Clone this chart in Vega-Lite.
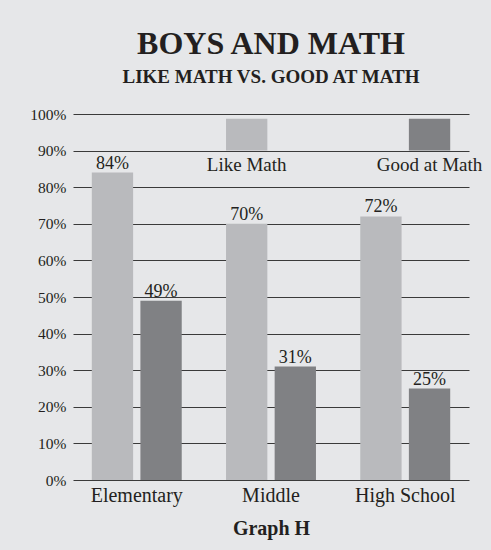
{
  "$schema": "https://vega.github.io/schema/vega-lite/v6.json",
  "width": 396,
  "height": 366,
  "autosize": {"type": "none"},
  "padding": {"left": 73, "top": 114, "right": 22, "bottom": 70},
  "background": "#e6e7e9",
  "title": {
    "text": "BOYS AND MATH",
    "subtitle": "LIKE MATH VS. GOOD AT MATH",
    "anchor": "middle",
    "frame": "group",
    "font": "Liberation Serif",
    "fontSize": 32,
    "fontWeight": "bold",
    "color": "#231f20",
    "subtitleFont": "Liberation Serif",
    "subtitleFontSize": 19,
    "subtitleFontWeight": "bold",
    "subtitleColor": "#231f20",
    "subtitlePadding": 7,
    "offset": 19
  },
  "config": {
    "view": {"stroke": null},
    "font": "Liberation Serif"
  },
  "encoding": {
    "x": {
      "field": "School",
      "type": "nominal",
      "sort": ["Elementary", "Middle", "High School"],
      "scale": {"paddingInner": 0.33, "paddingOuter": 0.14},
      "axis": {
        "title": "Graph H",
        "labelAngle": 0,
        "labelFont": "Liberation Serif",
        "labelFontSize": 20,
        "labelColor": "#231f20",
        "labelPadding": 5,
        "ticks": false,
        "domain": false,
        "titleFont": "Liberation Serif",
        "titleFontSize": 20,
        "titleFontWeight": "bold",
        "titleColor": "#231f20",
        "titlePadding": 13
      }
    },
    "xOffset": {
      "field": "Series",
      "type": "nominal",
      "sort": ["Like Math", "Good at Math"],
      "scale": {"paddingInner": 0.15, "paddingOuter": 0}
    },
    "y": {
      "field": "Percent",
      "type": "quantitative",
      "scale": {"domain": [0, 100]},
      "axis": {
        "title": null,
        "values": [0, 10, 20, 30, 40, 50, 60, 70, 80, 90, 100],
        "labelExpr": "datum.value + '%'",
        "labelFont": "Liberation Serif",
        "labelFontSize": 15.5,
        "labelColor": "#231f20",
        "labelPadding": 7,
        "labelOverlap": false,
        "ticks": false,
        "domain": false,
        "grid": true,
        "gridColor": "#3a3a3a",
        "gridWidth": 1.2,
        "gridOpacity": 1
      }
    }
  },
  "layer": [
    {
      "data": {
        "values": [
          {"School": "Elementary", "Series": "Like Math", "Percent": 84},
          {"School": "Elementary", "Series": "Good at Math", "Percent": 49},
          {"School": "Middle", "Series": "Like Math", "Percent": 70},
          {"School": "Middle", "Series": "Good at Math", "Percent": 31},
          {"School": "High School", "Series": "Like Math", "Percent": 72},
          {"School": "High School", "Series": "Good at Math", "Percent": 25}
        ]
      },
      "layer": [
        {
          "mark": {"type": "bar"},
          "encoding": {
            "color": {
              "field": "Series",
              "type": "nominal",
              "scale": {"domain": ["Like Math", "Good at Math"], "range": ["#b9babd", "#808184"]},
              "legend": null
            }
          }
        },
        {
          "mark": {"type": "text", "baseline": "alphabetic", "dy": -4, "fontSize": 18, "font": "Liberation Serif", "color": "#231f20", "text": {"expr": "datum.Percent + '%'"}},
          "encoding": {
            "detail": {"field": "Series"}
          }
        }
      ]
    },
    {
      "data": {
        "values": [
          {"School": "Middle", "Series": "Like Math", "Percent": 90, "Top": 98.7},
          {"School": "High School", "Series": "Good at Math", "Percent": 90, "Top": 98.7}
        ]
      },
      "layer": [
        {
          "mark": {"type": "bar"},
          "encoding": {
            "y2": {"field": "Top"},
            "color": {"field": "Series", "type": "nominal"}
          }
        },
        {
          "mark": {"type": "text", "baseline": "top", "dy": 5, "fontSize": 19, "font": "Liberation Serif", "color": "#231f20"},
          "encoding": {
            "text": {"field": "Series"}
          }
        }
      ]
    }
  ]
}
